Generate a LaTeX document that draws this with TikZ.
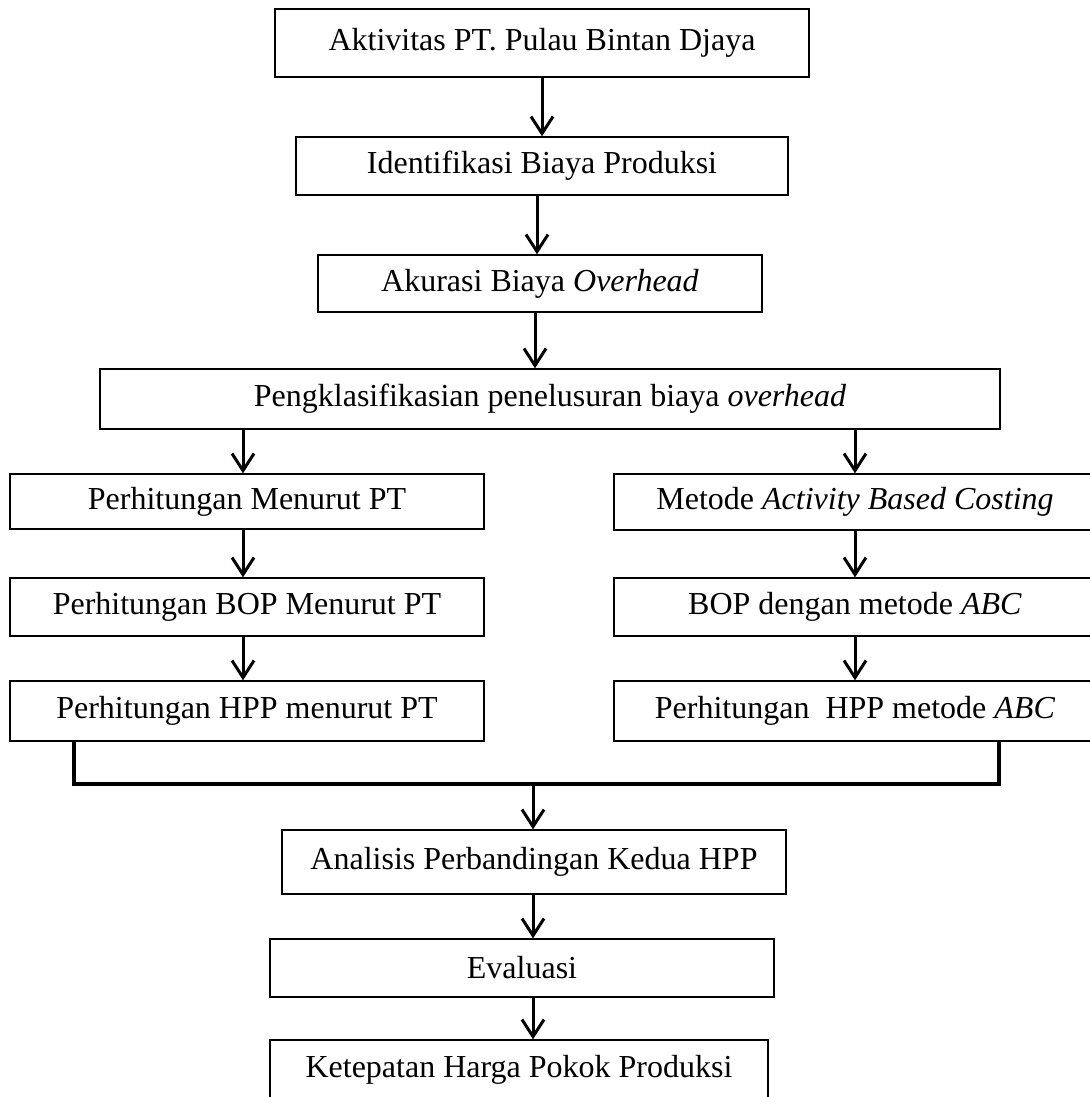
\documentclass[tikz,border=0pt]{standalone}
\usepackage{fontspec}
\setmainfont{Liberation Serif}
\usetikzlibrary{arrows.meta, positioning, calc}

\begin{document}
\begin{tikzpicture}[
  x=1pt, y=-1pt,
  box/.style={draw, line width=1.4pt, inner sep=0pt, align=center, font=\fontsize{32}{38}\selectfont},
  flow/.style={line width=3pt, -{Straight Barb[length=17pt, width=22pt, line width=3pt]}},
  bus/.style={line width=4pt, line join=miter},
]
\useasboundingbox (0,0) rectangle (1089,1097);

% alur utama
\node[box, minimum width=534pt, minimum height=68pt] (akt) at (542,43) {Aktivitas PT. Pulau Bintan Djaya};
\node[box, minimum width=492pt, minimum height=58pt] (idf) at (542,166) {Identifikasi Biaya Produksi};
\node[box, minimum width=444pt, minimum height=57pt] (aku) at (540,283.5) {Akurasi Biaya \textit{Overhead}};
\node[box, minimum width=900pt, minimum height=60pt] (klas) at (550,399) {Pengklasifikasian penelusuran biaya \textit{overhead}};

% kolom kiri: menurut PT
\node[box, minimum width=474pt, minimum height=55pt] (pt1) at (247,501.5) {Perhitungan Menurut PT};
\node[box, minimum width=474pt, minimum height=58pt] (pt2) at (247,607) {Perhitungan BOP Menurut PT};
\node[box, minimum width=474pt, minimum height=60pt] (pt3) at (247,711) {Perhitungan HPP menurut PT};

% kolom kanan: metode ABC
\node[box, minimum width=482pt, minimum height=56pt] (abc1) at (855,502) {Metode \textit{Activity Based Costing}};
\node[box, minimum width=482pt, minimum height=58pt] (abc2) at (855,607) {BOP dengan metode \textit{ABC}};
\node[box, minimum width=482pt, minimum height=60pt] (abc3) at (855,711) {Perhitungan\ \ HPP metode \textit{ABC}};

% hasil
\node[box, minimum width=504pt, minimum height=64pt] (anl) at (534,862) {Analisis Perbandingan Kedua HPP};
\node[box, minimum width=504pt, minimum height=58pt] (eva) at (522,968) {Evaluasi};
\node[box, minimum width=498pt, minimum height=60pt] (tep) at (519,1070) {Ketepatan Harga Pokok Produksi};

% jalur panah
\coordinate (xm1) at (537,0);
\coordinate (xm2) at (535,0);
\coordinate (xl) at (243,0);

% panah
\draw[flow] (akt.south) -- (akt.south |- idf.north);
\draw[flow] (idf.south -| xm1) -- (aku.north -| xm1);
\draw[flow] (aku.south -| xm2) -- (klas.north -| xm2);
\draw[flow] (klas.south -| xl) -- (pt1.north -| xl);
\draw[flow] (klas.south -| abc1.north) -- (abc1.north);
\draw[flow] (pt1.south -| xl) -- (pt2.north -| xl);
\draw[flow] (pt2.south -| xl) -- (pt3.north -| xl);
\draw[flow] (abc1.south) -- (abc2.north);
\draw[flow] (abc2.south) -- (abc3.north);

% garis penggabung
\coordinate (busL) at (74,784);
\coordinate (busR) at (999,784);
\coordinate (busM) at (533,784);
\draw[bus] (pt3.south -| busL) -- (busL) -- (busR) -- (abc3.south -| busR);
\draw[flow] (busM) -- (busM |- anl.north);
\draw[flow] (anl.south -| busM) -- (eva.north -| busM);
\draw[flow] (eva.south -| busM) -- (tep.north -| busM);

\end{tikzpicture}
\end{document}
